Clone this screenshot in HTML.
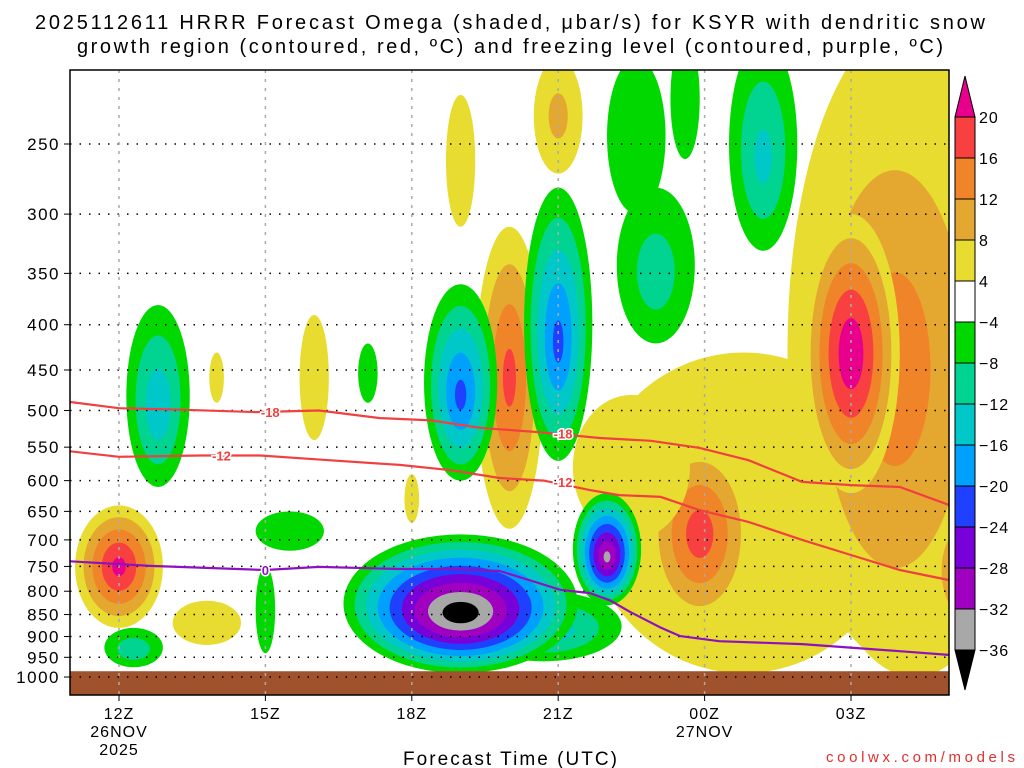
<!DOCTYPE html>
<html><head><meta charset="utf-8"><style>
html,body{margin:0;padding:0;background:#fff;}
svg{display:block;font-family:"Liberation Sans",sans-serif;}
</style></head><body>
<svg id="chart" width="1024" height="768" viewBox="0 0 1024 768">
<text x="35" y="29" font-size="20" textLength="950" lengthAdjust="spacing">2025112611 HRRR Forecast Omega (shaded, μbar/s) for KSYR with dendritic snow</text>
<text x="77" y="53" font-size="20" textLength="866" lengthAdjust="spacing">growth region (contoured, red, ºC) and freezing level (contoured, purple, ºC)</text>
<defs><clipPath id="pc"><rect x="70" y="70" width="879" height="625"/></clipPath></defs>
<g id="plot" clip-path="url(#pc)"></g>
<g id="overlay"></g>
<rect x="70" y="70" width="879" height="625" fill="none" stroke="#000" stroke-width="1.5"/>
<g id="cbar"></g>
<text x="403" y="765" font-size="19" textLength="214" lengthAdjust="spacing">Forecast Time (UTC)</text>
<text x="826" y="762" font-size="15" fill="#e03030" textLength="189" lengthAdjust="spacing">coolwx.com/models</text>
</svg>
<script>
const pressureTicks=[250,300,350,400,450,500,550,600,650,700,750,800,850,900,950,1000];
const timeTicks=[0,3,6,9,12,15];
const timeLabels=["12Z","15Z","18Z","21Z","00Z","03Z"];
const dateLabels=["26NOV","","","","27NOV",""];
const yearLabels=["2025","","","","",""];
const posT=[12.8,16.3,15.9,15,17.6,11.9,8.0,0,1.8,2.0,4.0,7.0,9.0,6.0,17.8,10.5];
const posHW=[3.2,2.6,2.2,1.0,0.9,1.1,0.7,0.9,0.7,0.15,0.3,0.3,0.5,0.15,0.8,1.2];
const posTop=[430,180,210,300,640,540,310,640,820,430,390,220,200,590,200,480];
const posBot=[990,1000,960,620,900,880,680,880,920,490,540,310,270,670,330,700];
const posPeak=[7,8,15,24,24,19,18,22,6,6,6,6,10,6,6,7];
const negT=[0.8,0.3,3.0,3.5,5.1,7.0,8.7,7.0,9.0,10.0,10.6,11.0,11.6,13.2];
const negHW=[0.65,0.6,0.2,0.7,0.2,0.75,1.6,2.4,0.7,0.7,0.6,0.8,0.3,0.7];
const negTop=[380,880,750,650,420,360,800,690,280,620,200,280,190,190];
const negBot=[610,975,940,720,490,600,960,990,570,830,300,420,260,330];
const negPeak=[-16,-12,-6,-6,-6,-22,-16,-40,-22,-34,-7,-11,-6,-14];
const dgz18T=[-1,0,1.25,2.8,4.1,5.35,6.4,7.4,8.6,9.85,10.9,11.9,12.9,14,15,16,17];
const dgz18P=[489,497,499,502,500,510,513,523,529,537,541,551,569,602,607,610,639];
const dgz12T=[-1,0,1.66,2.9,4.3,5.75,6.8,7.8,8.7,9.65,10.25,11.1,11.9,12.9,14,15,16,17];
const dgz12P=[556,564,562,562,569,576,584,596,600,615,623,626,648,668,700,728,757,777];
const frzT=[-1,0.64,3,4.1,5.75,6.8,7.8,8.4,9.04,9.65,10.06,10.47,11.09,11.5,12.3,14,16,17];
const frzP=[740,749,757,751,755,755,759,777,797,804,819,844,879,899,911,918,935,944];
const posLevels=[4,8,12,16,20];
const posColors=["#e8dc30","#e4a830","#f08428","#f84040","#e8008c"];
const negLevels=[-4,-8,-12,-16,-20,-24,-28,-32,-36];
const negColors=["#00d800","#00d490","#00c8c8","#00a0ff","#2040ff","#7800d8","#a000c0","#a8a8a8","#000000"];
const cbLabels=["20","16","12","8","4","−4","−8","−12","−16","−20","−24","−28","−32","−36"];

const NS="http://www.w3.org/2000/svg";
const X=t=>119+48.8*t;
const Y=p=>144+384.5*Math.log(p/250);
function mk(tag,attrs,parent){const e=document.createElementNS(NS,tag);for(const k in attrs)e.setAttribute(k,attrs[k]);parent.appendChild(e);return e;}
const plot=document.getElementById('plot');
const ov=document.getElementById('overlay');
const svg=document.getElementById('chart');

function blob(t,hw,top,bot,peak,levels,colors,sign){
  const cx=X(t),cy=(Y(top)+Y(bot))/2,rx=hw*48.8,ry=(Y(bot)-Y(top))/2;
  const ap=Math.abs(peak);
  levels.forEach((L,i)=>{
    const aL=Math.abs(L); if(aL>=ap) return;
    const k=Math.pow((ap-aL)/(ap-4),0.85);
    const e=mk('ellipse',{cx:cx,cy:cy+(sign<0?ry*0.15*(1-k):0),rx:rx*k,ry:ry*k,fill:colors[i]},plot);
    
    
  });
}
posT.forEach((t,i)=>blob(t,posHW[i],posTop[i],posBot[i],posPeak[i],posLevels,posColors,1));
negT.forEach((t,i)=>blob(t,negHW[i],negTop[i],negBot[i],negPeak[i],negLevels,negColors,-1));

const g=mk('rect',{x:70,y:Y(985),width:879,height:695-Y(985),fill:"#a0522d"},plot);



pressureTicks.forEach(p=>{
  const y=Y(p);
  const l=mk('line',{x1:70,x2:949,y1:y,y2:y,stroke:"#000","stroke-width":1.5,"stroke-dasharray":"1.5 8"},ov);
  
  
  mk('line',{x1:64,x2:70,y1:y,y2:y,stroke:"#000"},ov);
  const tx=mk('text',{x:60,y:y+6,"font-size":17,"text-anchor":"end","letter-spacing":"1.5"},ov);
  tx.textContent=p;
  
  
});
timeTicks.forEach((t,i)=>{
  const x=X(t);
  const l=mk('line',{x1:x,x2:x,y1:70,y2:695,stroke:"#aaa","stroke-width":1.5,"stroke-dasharray":"3 6"},ov);
  
  
  mk('line',{x1:x,x2:x,y1:695,y2:701,stroke:"#000"},ov);
  [timeLabels[i],dateLabels[i],yearLabels[i]].forEach((s,j)=>{
    if(!s)return;
    const tx=mk('text',{x:x,y:719+j*18,"font-size":16,"text-anchor":"middle","letter-spacing":"1"},svg);
    tx.textContent=s;
    
    
  });
});
function line(T,P,color,name){
  const d=T.map((t,i)=>(i?'L':'M')+X(t).toFixed(1)+','+Y(P[i]).toFixed(1)).join('');
  const l=mk('path',{d:d,fill:"none",stroke:color,"stroke-width":2.2},ov);
  
  
}
line(dgz18T,dgz18P,"#f04040","dgz-minus18-contour");
line(dgz12T,dgz12P,"#f04040","dgz-minus12-contour");
line(frzT,frzP,"#9010c0","freezing-level-contour");
function lab(t,p,s,c){
  const tx=mk('text',{x:X(t),y:Y(p)+5,"font-size":13,"font-weight":"bold",fill:c,"text-anchor":"middle",stroke:"#fff","stroke-width":3,"paint-order":"stroke"},ov);
  tx.textContent=s;
  
  
}
lab(3.1,502,"-18","#f04040");lab(9.1,531,"-18","#f04040");
lab(2.1,562,"-12","#f04040");lab(9.1,602,"-12","#f04040");
lab(3.0,757,"0","#9010c0");

const cb=document.getElementById('cbar');
const cbColors=posColors.slice(0,4).reverse().concat(["#ffffff"]).concat(negColors.slice(0,8));
const top0=117,step=41;
mk('polygon',{points:`955,${top0} 975,${top0} 965,76`,fill:"#e8008c",stroke:"#000"},cb);
cbColors.forEach((c,i)=>{
  const r=mk('rect',{x:955,y:top0+i*step,width:20,height:step,fill:c,stroke:"#000"},cb);
  
  
});
const bt=top0+13*step;
mk('polygon',{points:`955,${bt} 975,${bt} 965,690`,fill:"#000",stroke:"#000"},cb);
cbLabels.forEach((s,i)=>{
  const tx=mk('text',{x:979,y:top0+i*step+6,"font-size":16,"letter-spacing":"1"},cb);
  tx.textContent=s;
  
  
});
</script>
</body></html>
